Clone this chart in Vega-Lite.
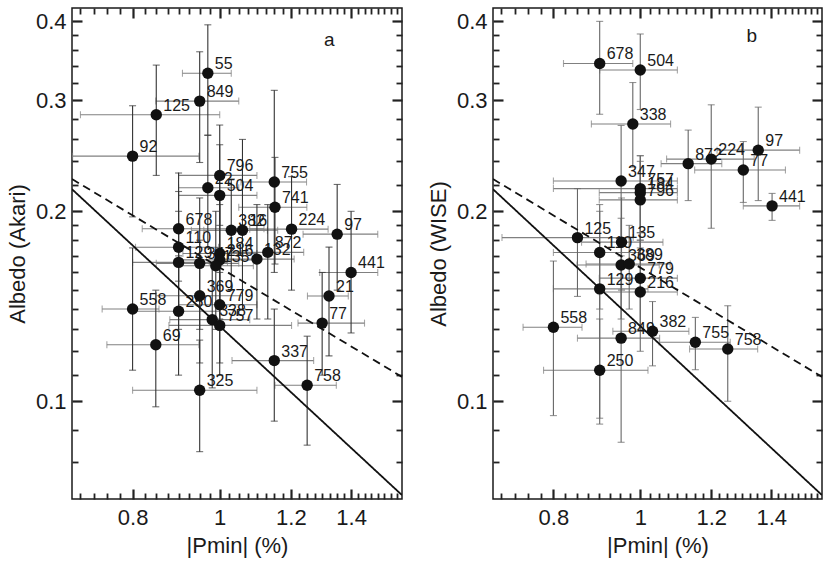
{
  "$schema": "https://vega.github.io/schema/vega-lite/v6.json",
  "background": "white",
  "padding": {"left": 5, "top": 6, "right": 5, "bottom": 2},
  "spacing": 22,
  "datasets": {
    "akari": [
      {"id": "55", "p": 0.97, "plo": 0.909, "phi": 1.03, "a": 0.331, "alo": 0.264, "ahi": 0.395},
      {"id": "849", "p": 0.95, "plo": 0.849, "phi": 1.05, "a": 0.299, "alo": 0.239, "ahi": 0.358},
      {"id": "125", "p": 0.85, "plo": 0.70, "phi": 1.0, "a": 0.2845, "alo": 0.228, "ahi": 0.341},
      {"id": "92", "p": 0.80, "plo": 0.686, "phi": 0.948, "a": 0.2446, "alo": 0.196, "ahi": 0.294},
      {"id": "796", "p": 1.0, "plo": 0.90, "phi": 1.10, "a": 0.228, "alo": 0.19, "ahi": 0.274},
      {"id": "22", "p": 0.97, "plo": 0.90, "phi": 1.05, "a": 0.218, "alo": 0.175, "ahi": 0.264},
      {"id": "504", "p": 1.0, "plo": 0.90, "phi": 1.10, "a": 0.212, "alo": 0.172, "ahi": 0.255},
      {"id": "755", "p": 1.15, "plo": 1.056, "phi": 1.249, "a": 0.2226, "alo": 0.16, "ahi": 0.311},
      {"id": "741", "p": 1.152, "plo": 1.05, "phi": 1.25, "a": 0.203, "alo": 0.165, "ahi": 0.2435},
      {"id": "678", "p": 0.90, "plo": 0.82, "phi": 1.12, "a": 0.1877, "alo": 0.155, "ahi": 0.23},
      {"id": "382", "p": 1.03, "plo": 0.93, "phi": 1.13, "a": 0.1866, "alo": 0.15, "ahi": 0.225},
      {"id": "16", "p": 1.06, "plo": 0.96, "phi": 1.16, "a": 0.1866, "alo": 0.14, "ahi": 0.26},
      {"id": "224", "p": 1.202, "plo": 1.08, "phi": 1.32, "a": 0.1874, "alo": 0.15, "ahi": 0.227},
      {"id": "97", "p": 1.351, "plo": 1.238, "phi": 1.499, "a": 0.184, "alo": 0.15, "ahi": 0.2206},
      {"id": "110", "p": 0.90, "plo": 0.806, "phi": 0.997, "a": 0.1754, "alo": 0.14, "ahi": 0.215},
      {"id": "129", "p": 0.90, "plo": 0.80, "phi": 1.02, "a": 0.166, "alo": 0.13, "ahi": 0.20},
      {"id": "347", "p": 0.95, "plo": 0.85, "phi": 1.05, "a": 0.1654, "alo": 0.13, "ahi": 0.21},
      {"id": "184", "p": 1.0, "plo": 0.91, "phi": 1.10, "a": 0.1715, "alo": 0.14, "ahi": 0.21},
      {"id": "216", "p": 1.0, "plo": 0.90, "phi": 1.10, "a": 0.1675, "alo": 0.135, "ahi": 0.205},
      {"id": "135", "p": 0.99, "plo": 0.90, "phi": 1.09, "a": 0.164, "alo": 0.13, "ahi": 0.20},
      {"id": "132", "p": 1.10, "plo": 1.0, "phi": 1.21, "a": 0.168, "alo": 0.135, "ahi": 0.205},
      {"id": "872", "p": 1.131, "plo": 1.03, "phi": 1.24, "a": 0.1722, "alo": 0.135, "ahi": 0.205},
      {"id": "441", "p": 1.40, "plo": 1.292, "phi": 1.499, "a": 0.16, "alo": 0.1283, "ahi": 0.20},
      {"id": "21", "p": 1.323, "plo": 1.252, "phi": 1.39, "a": 0.1468, "alo": 0.118, "ahi": 0.1755},
      {"id": "369", "p": 0.95, "plo": 0.85, "phi": 1.06, "a": 0.147, "alo": 0.115, "ahi": 0.18},
      {"id": "558", "p": 0.80, "plo": 0.74, "phi": 0.856, "a": 0.140, "alo": 0.112, "ahi": 0.175},
      {"id": "250", "p": 0.90, "plo": 0.80, "phi": 1.0, "a": 0.1389, "alo": 0.11, "ahi": 0.17},
      {"id": "779", "p": 1.0, "plo": 0.90, "phi": 1.10, "a": 0.1422, "alo": 0.115, "ahi": 0.175},
      {"id": "338", "p": 0.981, "plo": 0.88, "phi": 1.08, "a": 0.1347, "alo": 0.105, "ahi": 0.165},
      {"id": "757", "p": 1.0, "plo": 0.878, "phi": 1.202, "a": 0.1319, "alo": 0.11, "ahi": 0.16},
      {"id": "77", "p": 1.30, "plo": 1.222, "phi": 1.449, "a": 0.133, "alo": 0.11, "ahi": 0.16},
      {"id": "69", "p": 0.849, "plo": 0.749, "phi": 0.948, "a": 0.1229, "alo": 0.098, "ahi": 0.15},
      {"id": "337", "p": 1.15, "plo": 1.032, "phi": 1.272, "a": 0.116, "alo": 0.093, "ahi": 0.14},
      {"id": "758", "p": 1.251, "plo": 1.152, "phi": 1.348, "a": 0.106, "alo": 0.0852, "ahi": 0.1268},
      {"id": "325", "p": 0.95, "plo": 0.80, "phi": 1.10, "a": 0.1041, "alo": 0.0832, "ahi": 0.125}
    ],
    "wise": [
      {"id": "678", "p": 0.901, "plo": 0.821, "phi": 0.981, "a": 0.343, "alo": 0.285, "ahi": 0.40},
      {"id": "504", "p": 1.0, "plo": 0.901, "phi": 1.10, "a": 0.335, "alo": 0.29, "ahi": 0.382},
      {"id": "338", "p": 0.981, "plo": 0.882, "phi": 1.081, "a": 0.275, "alo": 0.235, "ahi": 0.32},
      {"id": "872", "p": 1.131, "plo": 1.055, "phi": 1.233, "a": 0.238, "alo": 0.208, "ahi": 0.269},
      {"id": "224", "p": 1.20, "plo": 1.07, "phi": 1.34, "a": 0.242, "alo": 0.188, "ahi": 0.295},
      {"id": "97", "p": 1.354, "plo": 1.218, "phi": 1.506, "a": 0.25, "alo": 0.208, "ahi": 0.2925},
      {"id": "77", "p": 1.303, "plo": 1.15, "phi": 1.452, "a": 0.2325, "alo": 0.2066, "ahi": 0.258},
      {"id": "441", "p": 1.403, "plo": 1.303, "phi": 1.506, "a": 0.204, "alo": 0.1935, "ahi": 0.2135},
      {"id": "347", "p": 0.952, "plo": 0.80, "phi": 1.10, "a": 0.2234, "alo": 0.18, "ahi": 0.2736},
      {"id": "757", "p": 1.0, "plo": 0.80, "phi": 1.10, "a": 0.2173, "alo": 0.185, "ahi": 0.245},
      {"id": "184", "p": 1.0, "plo": 0.90, "phi": 1.10, "a": 0.2141, "alo": 0.18, "ahi": 0.245},
      {"id": "796", "p": 1.0, "plo": 0.90, "phi": 1.10, "a": 0.2085, "alo": 0.175, "ahi": 0.24},
      {"id": "125", "p": 0.851, "plo": 0.701, "phi": 0.982, "a": 0.1817, "alo": 0.1466, "ahi": 0.2173},
      {"id": "110", "p": 0.901, "plo": 0.80, "phi": 1.0, "a": 0.1721, "alo": 0.14, "ahi": 0.205},
      {"id": "135", "p": 0.953, "plo": 0.86, "phi": 1.06, "a": 0.1787, "alo": 0.15, "ahi": 0.21},
      {"id": "369", "p": 0.952, "plo": 0.85, "phi": 1.05, "a": 0.1644, "alo": 0.135, "ahi": 0.195},
      {"id": "389", "p": 0.972, "plo": 0.87, "phi": 1.08, "a": 0.165, "alo": 0.14, "ahi": 0.19},
      {"id": "779", "p": 1.0, "plo": 0.90, "phi": 1.10, "a": 0.1567, "alo": 0.13, "ahi": 0.185},
      {"id": "129", "p": 0.901, "plo": 0.80, "phi": 1.02, "a": 0.1507, "alo": 0.094, "ahi": 0.20},
      {"id": "216", "p": 1.0, "plo": 0.90, "phi": 1.10, "a": 0.149, "alo": 0.12, "ahi": 0.18},
      {"id": "558", "p": 0.80, "plo": 0.74, "phi": 0.861, "a": 0.131, "alo": 0.0949, "ahi": 0.1668},
      {"id": "849", "p": 0.952, "plo": 0.851, "phi": 1.051, "a": 0.1259, "alo": 0.0861, "ahi": 0.17},
      {"id": "382", "p": 1.032, "plo": 0.932, "phi": 1.133, "a": 0.1291, "alo": 0.1138, "ahi": 0.1439},
      {"id": "755", "p": 1.152, "plo": 1.05, "phi": 1.26, "a": 0.124, "alo": 0.1122, "ahi": 0.1358},
      {"id": "758", "p": 1.252, "plo": 1.135, "phi": 1.352, "a": 0.121, "alo": 0.10, "ahi": 0.1417},
      {"id": "250", "p": 0.901, "plo": 0.78, "phi": 1.02, "a": 0.112, "alo": 0.092, "ahi": 0.135}
    ],
    "fits": [
      {"fit": "solid", "p": 0.685, "a": 0.2168},
      {"fit": "solid", "p": 1.595, "a": 0.0710},
      {"fit": "dashed", "p": 0.685, "a": 0.225},
      {"fit": "dashed", "p": 1.595, "a": 0.1093}
    ]
  },
  "hconcat": [
    {
      "width": 330,
      "height": 491,
      "data": {"name": "akari"},
      "resolve": {"axis": {"x": "independent", "y": "independent"}},
      "layer": [
        {
          "mark": {"type": "errorbar", "color": "#808080", "thickness": 1.1, "ticks": {"size": 7}},
          "encoding": {
            "x": {"field": "plo", "type": "quantitative", "scale": {"type": "log", "domain": [0.685, 1.595], "nice": false},
                  "axis": {"orient": "top", "values": [0.7,0.725,0.75,0.775,0.825,0.85,0.875,0.9,0.925,0.95,0.975,1.025,1.05,1.075,1.1,1.125,1.15,1.175,1.225,1.25,1.275,1.3,1.325,1.35,1.375,1.425,1.45,1.475,1.5,1.525,1.55,1.575], "labels": false, "ticks": true, "tickSize": -6, "tickColor": "#222222", "tickWidth": 1.8, "title": null}},
            "x2": {"field": "phi"},
            "y": {"field": "a", "type": "quantitative", "scale": {"type": "log", "domain": [0.07, 0.42], "nice": false},
                  "axis": {"orient": "right", "values": [0.08,0.09,0.11,0.12,0.13,0.14,0.15,0.16,0.17,0.18,0.19,0.22,0.24,0.26,0.28,0.32,0.34,0.36,0.38], "labels": false, "ticks": true, "tickSize": -6, "tickColor": "#222222", "tickWidth": 1.8, "title": null}}
          }
        },
        {
          "mark": {"type": "errorbar", "color": "#333333", "thickness": 1.1, "ticks": {"size": 7}},
          "encoding": {
            "x": {"field": "p", "type": "quantitative", "scale": {"type": "log", "domain": [0.685, 1.595], "nice": false}, "axis": null},
            "y": {"field": "alo", "type": "quantitative", "scale": {"type": "log", "domain": [0.07, 0.42], "nice": false}, "axis": null},
            "y2": {"field": "ahi"}
          }
        },
        {
          "data": {"name": "fits"},
          "mark": {"type": "line", "color": "#111111", "strokeWidth": 1.8, "clip": true},
          "encoding": {
            "x": {"field": "p", "type": "quantitative", "scale": {"type": "log", "domain": [0.685, 1.595], "nice": false},
                  "axis": {"orient": "bottom", "values": [0.8, 1, 1.2, 1.4], "format": "~g", "ticks": true, "tickSize": -10, "tickColor": "#222222", "tickWidth": 2.2, "labelPadding": 18, "title": "|Pmin| (%)", "titlePadding": 7}},
            "y": {"field": "a", "type": "quantitative", "scale": {"type": "log", "domain": [0.07, 0.42], "nice": false},
                  "axis": {"orient": "left", "values": [0.1, 0.2, 0.3, 0.4], "format": ".1f", "ticks": true, "tickSize": -10, "tickColor": "#222222", "tickWidth": 2.2, "labelPadding": 16, "title": "Albedo (Akari)", "titlePadding": 6}},
            "strokeDash": {"field": "fit", "type": "nominal", "scale": {"domain": ["solid", "dashed"], "range": [[1, 0], [8, 5]]}, "legend": null},
            "detail": {"field": "fit"}
          }
        },
        {
          "mark": {"type": "text", "align": "left", "baseline": "middle", "dx": 7, "dy": -9, "fontSize": 16, "font": "Liberation Sans", "color": "#1a1a1a"},
          "encoding": {
            "x": {"field": "p", "type": "quantitative", "scale": {"type": "log", "domain": [0.685, 1.595], "nice": false},
                  "axis": {"orient": "top", "values": [0.8, 1, 1.2, 1.4], "labels": false, "ticks": true, "tickSize": -10, "tickColor": "#222222", "tickWidth": 2.2, "title": null}},
            "y": {"field": "a", "type": "quantitative", "scale": {"type": "log", "domain": [0.07, 0.42], "nice": false},
                  "axis": {"orient": "right", "values": [0.1, 0.2, 0.3, 0.4], "labels": false, "ticks": true, "tickSize": -10, "tickColor": "#222222", "tickWidth": 2.2, "title": null}},
            "text": {"field": "id", "type": "nominal"}
          }
        },
        {
          "mark": {"type": "circle", "size": 130, "color": "#111111", "opacity": 1},
          "encoding": {
            "x": {"field": "p", "type": "quantitative", "scale": {"type": "log", "domain": [0.685, 1.595], "nice": false},
                  "axis": {"orient": "bottom", "values": [0.7,0.725,0.75,0.775,0.825,0.85,0.875,0.9,0.925,0.95,0.975,1.025,1.05,1.075,1.1,1.125,1.15,1.175,1.225,1.25,1.275,1.3,1.325,1.35,1.375,1.425,1.45,1.475,1.5,1.525,1.55,1.575], "labels": false, "ticks": true, "tickSize": -6, "tickColor": "#222222", "tickWidth": 1.8, "title": null}},
            "y": {"field": "a", "type": "quantitative", "scale": {"type": "log", "domain": [0.07, 0.42], "nice": false},
                  "axis": {"orient": "left", "values": [0.08,0.09,0.11,0.12,0.13,0.14,0.15,0.16,0.17,0.18,0.19,0.22,0.24,0.26,0.28,0.32,0.34,0.36,0.38], "labels": false, "ticks": true, "tickSize": -6, "tickColor": "#222222", "tickWidth": 1.8, "title": null}}
          }
        },
        {
          "data": {"values": [{}]},
          "mark": {"type": "text", "fontSize": 19, "font": "Liberation Sans", "color": "#1a1a1a", "align": "center", "baseline": "middle"},
          "encoding": {
            "x": {"datum": 1.324, "type": "quantitative", "scale": {"type": "log", "domain": [0.685, 1.595], "nice": false}, "axis": null},
            "y": {"datum": 0.374, "type": "quantitative", "scale": {"type": "log", "domain": [0.07, 0.42], "nice": false}, "axis": null},
            "text": {"value": "a"}
          }
        }
      ]
    },
    {
      "width": 329,
      "height": 491,
      "data": {"name": "wise"},
      "resolve": {"axis": {"x": "independent", "y": "independent"}},
      "layer": [
        {
          "mark": {"type": "errorbar", "color": "#808080", "thickness": 1.1, "ticks": {"size": 7}},
          "encoding": {
            "x": {"field": "plo", "type": "quantitative", "scale": {"type": "log", "domain": [0.685, 1.595], "nice": false},
                  "axis": {"orient": "top", "values": [0.7,0.725,0.75,0.775,0.825,0.85,0.875,0.9,0.925,0.95,0.975,1.025,1.05,1.075,1.1,1.125,1.15,1.175,1.225,1.25,1.275,1.3,1.325,1.35,1.375,1.425,1.45,1.475,1.5,1.525,1.55,1.575], "labels": false, "ticks": true, "tickSize": -6, "tickColor": "#222222", "tickWidth": 1.8, "title": null}},
            "x2": {"field": "phi"},
            "y": {"field": "a", "type": "quantitative", "scale": {"type": "log", "domain": [0.07, 0.42], "nice": false},
                  "axis": {"orient": "right", "values": [0.08,0.09,0.11,0.12,0.13,0.14,0.15,0.16,0.17,0.18,0.19,0.22,0.24,0.26,0.28,0.32,0.34,0.36,0.38], "labels": false, "ticks": true, "tickSize": -6, "tickColor": "#222222", "tickWidth": 1.8, "title": null}}
          }
        },
        {
          "mark": {"type": "errorbar", "color": "#666666", "thickness": 1.1, "ticks": {"size": 7}},
          "encoding": {
            "x": {"field": "p", "type": "quantitative", "scale": {"type": "log", "domain": [0.685, 1.595], "nice": false}, "axis": null},
            "y": {"field": "alo", "type": "quantitative", "scale": {"type": "log", "domain": [0.07, 0.42], "nice": false}, "axis": null},
            "y2": {"field": "ahi"}
          }
        },
        {
          "data": {"name": "fits"},
          "mark": {"type": "line", "color": "#111111", "strokeWidth": 1.8, "clip": true},
          "encoding": {
            "x": {"field": "p", "type": "quantitative", "scale": {"type": "log", "domain": [0.685, 1.595], "nice": false},
                  "axis": {"orient": "bottom", "values": [0.8, 1, 1.2, 1.4], "format": "~g", "ticks": true, "tickSize": -10, "tickColor": "#222222", "tickWidth": 2.2, "labelPadding": 18, "title": "|Pmin| (%)", "titlePadding": 7}},
            "y": {"field": "a", "type": "quantitative", "scale": {"type": "log", "domain": [0.07, 0.42], "nice": false},
                  "axis": {"orient": "left", "values": [0.1, 0.2, 0.3, 0.4], "format": ".1f", "ticks": true, "tickSize": -10, "tickColor": "#222222", "tickWidth": 2.2, "labelPadding": 16, "title": "Albedo (WISE)", "titlePadding": 6}},
            "strokeDash": {"field": "fit", "type": "nominal", "scale": {"domain": ["solid", "dashed"], "range": [[1, 0], [8, 5]]}, "legend": null},
            "detail": {"field": "fit"}
          }
        },
        {
          "mark": {"type": "text", "align": "left", "baseline": "middle", "dx": 7, "dy": -9, "fontSize": 16, "font": "Liberation Sans", "color": "#1a1a1a"},
          "encoding": {
            "x": {"field": "p", "type": "quantitative", "scale": {"type": "log", "domain": [0.685, 1.595], "nice": false},
                  "axis": {"orient": "top", "values": [0.8, 1, 1.2, 1.4], "labels": false, "ticks": true, "tickSize": -10, "tickColor": "#222222", "tickWidth": 2.2, "title": null}},
            "y": {"field": "a", "type": "quantitative", "scale": {"type": "log", "domain": [0.07, 0.42], "nice": false},
                  "axis": {"orient": "right", "values": [0.1, 0.2, 0.3, 0.4], "labels": false, "ticks": true, "tickSize": -10, "tickColor": "#222222", "tickWidth": 2.2, "title": null}},
            "text": {"field": "id", "type": "nominal"}
          }
        },
        {
          "mark": {"type": "circle", "size": 130, "color": "#111111", "opacity": 1},
          "encoding": {
            "x": {"field": "p", "type": "quantitative", "scale": {"type": "log", "domain": [0.685, 1.595], "nice": false},
                  "axis": {"orient": "bottom", "values": [0.7,0.725,0.75,0.775,0.825,0.85,0.875,0.9,0.925,0.95,0.975,1.025,1.05,1.075,1.1,1.125,1.15,1.175,1.225,1.25,1.275,1.3,1.325,1.35,1.375,1.425,1.45,1.475,1.5,1.525,1.55,1.575], "labels": false, "ticks": true, "tickSize": -6, "tickColor": "#222222", "tickWidth": 1.8, "title": null}},
            "y": {"field": "a", "type": "quantitative", "scale": {"type": "log", "domain": [0.07, 0.42], "nice": false},
                  "axis": {"orient": "left", "values": [0.08,0.09,0.11,0.12,0.13,0.14,0.15,0.16,0.17,0.18,0.19,0.22,0.24,0.26,0.28,0.32,0.34,0.36,0.38], "labels": false, "ticks": true, "tickSize": -6, "tickColor": "#222222", "tickWidth": 1.8, "title": null}}
          }
        },
        {
          "data": {"values": [{}]},
          "mark": {"type": "text", "fontSize": 19, "font": "Liberation Sans", "color": "#1a1a1a", "align": "center", "baseline": "middle"},
          "encoding": {
            "x": {"datum": 1.332, "type": "quantitative", "scale": {"type": "log", "domain": [0.685, 1.595], "nice": false}, "axis": null},
            "y": {"datum": 0.379, "type": "quantitative", "scale": {"type": "log", "domain": [0.07, 0.42], "nice": false}, "axis": null},
            "text": {"value": "b"}
          }
        }
      ]
    }
  ],
  "config": {
    "view": {"stroke": "#1a1a1a", "strokeWidth": 1.5},
    "axis": {
      "domain": false, "grid": false, "ticks": true, "zindex": 1,
      "labelFont": "Liberation Sans", "titleFont": "Liberation Sans",
      "labelFontSize": 22, "titleFontSize": 22, "labelColor": "#1a1a1a", "titleColor": "#1a1a1a",
      "titleFontWeight": "normal", "minExtent": 0, "labelFlush": false, "labelOverlap": false
    }
  }
}
